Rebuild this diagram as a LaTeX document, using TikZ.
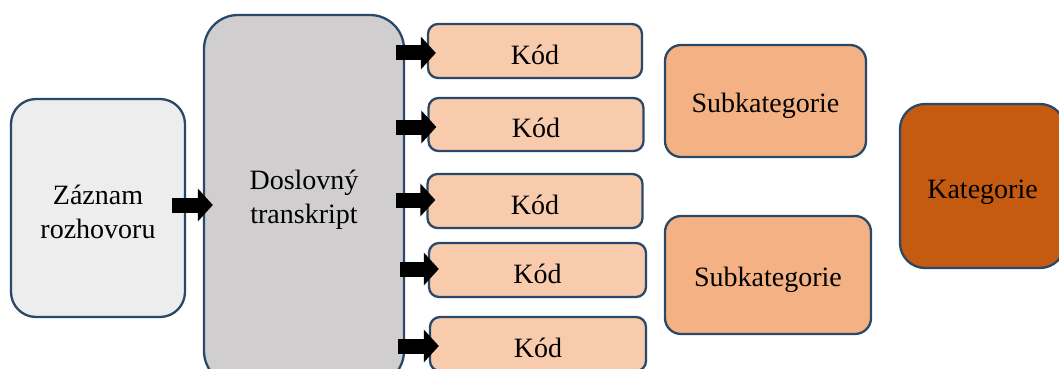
\documentclass[tikz,border=0pt]{standalone}
\usepackage{fontspec}
\setmainfont{Liberation Serif}
\usetikzlibrary{arrows.meta}

\definecolor{edge}{RGB}{42,73,104}
\definecolor{recfill}{RGB}{237,237,237}
\definecolor{trfill}{RGB}{208,206,206}
\definecolor{codefill}{RGB}{248,203,173}
\definecolor{subfill}{RGB}{244,177,131}
\definecolor{catfill}{RGB}{197,90,17}

\tikzset{
  box/.style={draw=edge, line width=2.3pt, align=center, inner sep=0pt,
    font=\fontsize{28}{34}\selectfont},
  recbox/.style={box, fill=recfill, rounded corners=25pt},
  trbox/.style={box, fill=trfill, rounded corners=34pt},
  codebox/.style={box, fill=codefill, rounded corners=10pt,
    text height=26pt, text depth=0pt},
  subbox/.style={box, fill=subfill, rounded corners=16pt,
    text height=23pt, text depth=0pt},
  catbox/.style={box, fill=catfill, rounded corners=25pt,
    text height=24pt, text depth=0pt},
  blockarrow/.style={draw=black, line width=15pt,
    -{Triangle[length=15pt, width=32pt]}},
}

\begin{document}
\begin{tikzpicture}[x=1pt, y=-1pt]
  \useasboundingbox (0,0) rectangle (1059,369);

  % recording and verbatim transcript
  \node[recbox, minimum width=174pt, minimum height=218pt] (zz) at (98,208)
    {\rule{0pt}{27pt}Záznam\\rozhovoru};
  \node[trbox, minimum width=200pt, minimum height=370pt] (tr) at (304,200)
    {Doslovný\\transkript};

  % codes
  \node[codebox, minimum width=214pt, minimum height=54pt] (k1) at (535,51) {Kód};
  \node[codebox, minimum width=215pt, minimum height=53pt] (k2) at (536,124.5) {Kód};
  \node[codebox, minimum width=215pt, minimum height=54pt] (k3) at (535,201) {Kód};
  \node[codebox, minimum width=217pt, minimum height=54pt] (k4) at (537.5,270) {Kód};
  \node[codebox, minimum width=216pt, minimum height=54pt] (k5) at (538,344) {Kód};

  % subcategories and category
  \node[subbox, minimum width=201pt, minimum height=112pt] (s1) at (765.5,101) {Subkategorie};
  \node[subbox, minimum width=206pt, minimum height=118pt] (s2) at (768,275) {Subkategorie};
  \node[catbox, minimum width=165pt, minimum height=164pt] (kat) at (982.5,186) {Kategorie};

  % block arrows (yshift is in page units: negative moves down)
  \draw[blockarrow] ([xshift=-14pt,yshift=3pt]zz.east) -- ([xshift=10pt,yshift=3pt]tr.west |- zz.east);
  \draw[blockarrow] ([xshift=-9pt,yshift=-2pt]tr.east |- k1.west) -- ([xshift=9pt,yshift=-2pt]k1.west);
  \draw[blockarrow] ([xshift=-9pt,yshift=-2.5pt]tr.east |- k2.west) -- ([xshift=9pt,yshift=-2.5pt]k2.west);
  \draw[blockarrow] ([xshift=-9pt,yshift=1pt]tr.east |- k3.west) -- ([xshift=9pt,yshift=1pt]k3.west);
  \draw[blockarrow] ([xshift=-5pt,yshift=1pt]tr.east |- k4.west) -- ([xshift=11pt,yshift=1pt]k4.west);
  \draw[blockarrow] ([xshift=-7pt,yshift=-2pt]tr.east |- k5.west) -- ([xshift=10pt,yshift=-2pt]k5.west);
\end{tikzpicture}
\end{document}
